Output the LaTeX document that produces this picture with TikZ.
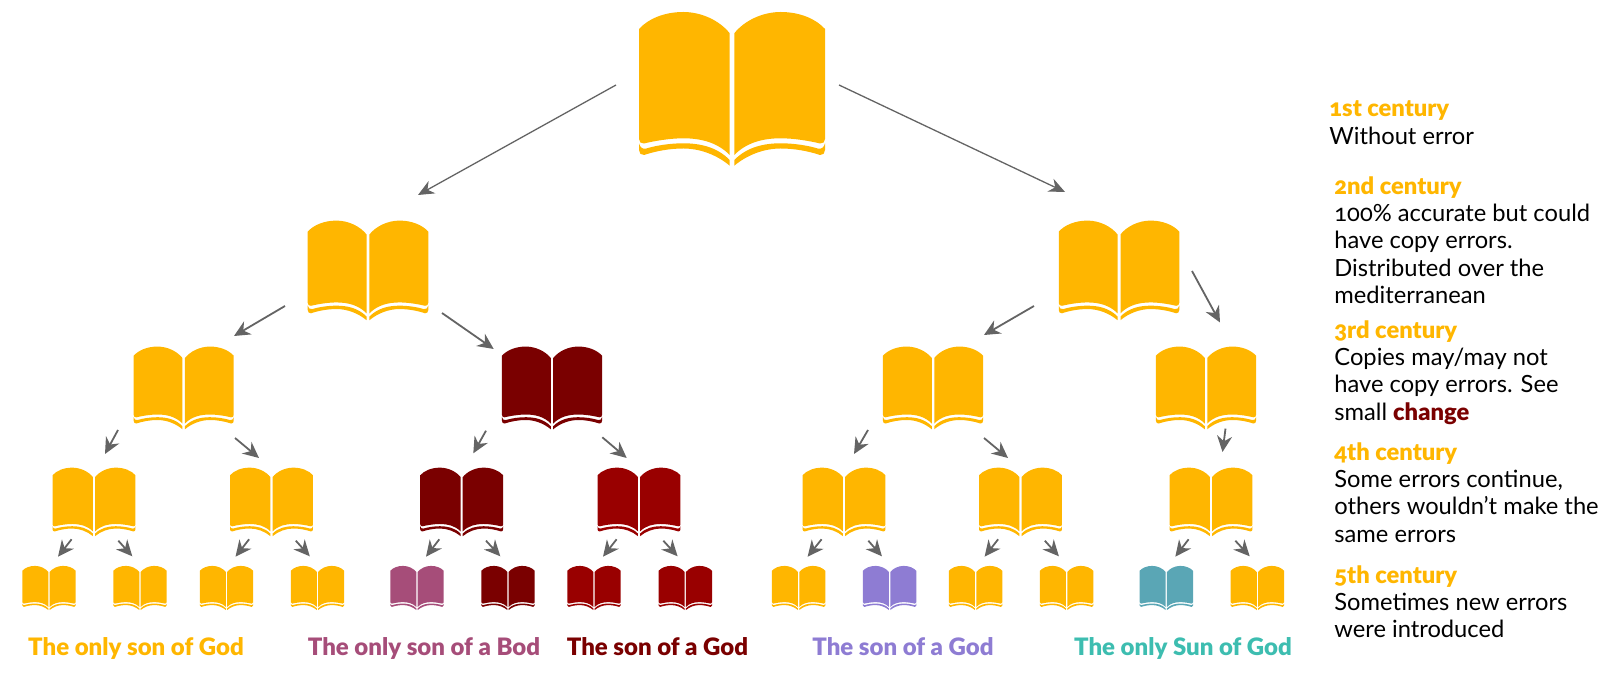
\documentclass[tikz,border=0pt]{standalone}
\usepackage{fontspec}
\setmainfont[Numbers=OldStyle,BoldFont={Lato Black}]{Lato}
\usetikzlibrary{arrows.meta,positioning}
\definecolor{BookGold}{RGB}{255,182,0}
\definecolor{BookDark}{RGB}{122,0,0}
\definecolor{BookRed}{RGB}{153,0,0}
\definecolor{BookPink}{RGB}{166,77,121}
\definecolor{BookPurple}{RGB}{142,124,211}
\definecolor{BookTeal}{RGB}{90,166,181}
\definecolor{LabelTeal}{RGB}{61,189,176}
\definecolor{ArrowGray}{RGB}{100,100,100}
\newcommand{\bookleaf}{(-2.3,-55.7) .. controls (-12,-68) and (-30,-77) .. (-48.7,-77)
  .. controls (-68,-77) and (-84,-70) .. (-93,-60) -- (-93,50)
  .. controls (-93,53) and (-91,54.8) .. (-88,54.5)
  .. controls (-78,52) and (-62,49.3) .. (-48.7,49.3)
  .. controls (-32,49.3) and (-15,53) .. (-2.3,66) -- cycle
  (-93,54.3) .. controls (-92,58) and (-90,60.5) .. (-86,59.6)
  .. controls (-76,56.5) and (-62,54.3) .. (-48.7,54.3)
  .. controls (-32,54.3) and (-15,58) .. (-2.3,71) -- (-2.3,76.7)
  .. controls (-15,66) and (-32,59.5) .. (-48.7,59.5)
  .. controls (-62,59.5) and (-76,62) .. (-88,66)
  .. controls (-91,66.5) and (-93,64) .. (-93,61) -- cycle}
\tikzset{
  pics/book/.style={code={
    \coordinate (-c) at (0,0);
    \fill[#1] \bookleaf;
    \fill[#1,xscale=-1] \bookleaf;
  }},
  bigarrow/.style={ArrowGray,line width=0.65pt,-{Stealth[length=8pt,width=7pt]}},
  midarrow/.style={ArrowGray,line width=0.9pt,-{Stealth[length=8pt,width=7.5pt]}},
  legend/.style={anchor=north west,inner sep=0pt,align=left,font=\fontsize{11.85}{13.65}\selectfont},
  heading/.style={anchor=base,inner sep=0pt,font=\fontsize{12}{13}\selectfont\bfseries},
}
\newcommand{\century}[1]{\textcolor{BookGold}{\bfseries #1}}
\begin{document}
\begin{tikzpicture}[x=0.5pt,y=-0.5pt]
  \useasboundingbox (0,0) rectangle (1600,688);
  % books
  \pic (root) at (732,89) {book=BookGold};
  \pic[scale=.648] (la) at (368,270.5) {book=BookGold};
  \pic[scale=.648] (lb) at (1119,270.5) {book=BookGold};
  \pic[scale=.538] (ma) at (183.7,388) {book=BookGold};
  \pic[scale=.538] (mb) at (552,388) {book=BookDark};
  \pic[scale=.538] (mc) at (933,388) {book=BookGold};
  \pic[scale=.538] (md) at (1206,388) {book=BookGold};
  \pic[scale=.446] (na) at (94,502) {book=BookGold};
  \pic[scale=.446] (nb) at (271.5,502) {book=BookGold};
  \pic[scale=.446] (nc) at (461.7,502) {book=BookDark};
  \pic[scale=.446] (nd) at (639,502) {book=BookRed};
  \pic[scale=.446] (ne) at (844,502) {book=BookGold};
  \pic[scale=.446] (nf) at (1020.5,502) {book=BookGold};
  \pic[scale=.446] (ng) at (1211,502) {book=BookGold};
  \pic[scale=.287] (pa) at (49,588) {book=BookGold};
  \pic[scale=.287] (pb) at (140,588) {book=BookGold};
  \pic[scale=.287] (pc) at (226.5,588) {book=BookGold};
  \pic[scale=.287] (pd) at (317.5,588) {book=BookGold};
  \pic[scale=.287] (pe) at (417,588) {book=BookPink};
  \pic[scale=.287] (pf) at (508,588) {book=BookDark};
  \pic[scale=.287] (pg) at (594,588) {book=BookRed};
  \pic[scale=.287] (ph) at (685.3,588) {book=BookRed};
  \pic[scale=.287] (pi) at (798.6,588) {book=BookGold};
  \pic[scale=.287] (pj) at (889.6,588) {book=BookPurple};
  \pic[scale=.287] (pk) at (975.6,588) {book=BookGold};
  \pic[scale=.287] (pl) at (1066.6,588) {book=BookGold};
  \pic[scale=.287] (pm) at (1166.3,588) {book=BookTeal};
  \pic[scale=.287] (pn) at (1257.4,588) {book=BookGold};
  % arrows
  \draw[bigarrow] ([shift={(-116,-4)}]root-c) -- ([shift={(50,-75.5)}]la-c);
  \draw[bigarrow] ([shift={(107,-4)}]root-c) -- ([shift={(-54,-78.5)}]lb-c);
  \draw[midarrow] ([shift={(-83,35.5)}]la-c) -- ([shift={(50.3,-52)}]ma-c);
  \draw[midarrow] ([shift={(74,42.5)}]la-c) -- ([shift={(-58.3,-39)}]mb-c);
  \draw[midarrow] ([shift={(-85,35.5)}]lb-c) -- ([shift={(51,-53)}]mc-c);
  \draw[midarrow] ([shift={(73,0.5)}]lb-c) -- ([shift={(14,-65.5)}]md-c);
  \draw[midarrow] ([shift={(-65.7,42)}]ma-c) -- ([shift={(11,-48)}]na-c);
  \draw[midarrow] ([shift={(51.3,50)}]ma-c) -- ([shift={(-12.5,-44)}]nb-c);
  \draw[midarrow] ([shift={(-66,42.7)}]mb-c) -- ([shift={(11.6,-48.7)}]nc-c);
  \draw[midarrow] ([shift={(50.3,49.3)}]mb-c) -- ([shift={(-12.3,-44)}]nd-c);
  \draw[midarrow] ([shift={(-65,42)}]mc-c) -- ([shift={(10,-48)}]ne-c);
  \draw[midarrow] ([shift={(51,50)}]mc-c) -- ([shift={(-12.5,-44)}]nf-c);
  \draw[midarrow] ([shift={(19.5,40.6)}]md-c) -- ([shift={(11.5,-50)}]ng-c);
  \draw[midarrow] ([shift={(-22.4,37.3)}]na-c) -- ([shift={(9,-31.3)}]pa-c);
  \draw[midarrow] ([shift={(24.3,38.7)}]na-c) -- ([shift={(-7.7,-31.7)}]pb-c);
  \draw[midarrow] ([shift={(-22.4,37.3)}]nb-c) -- ([shift={(9,-31.3)}]pc-c);
  \draw[midarrow] ([shift={(24.3,38.7)}]nb-c) -- ([shift={(-7.7,-31.7)}]pd-c);
  \draw[midarrow] ([shift={(-22.4,37.3)}]nc-c) -- ([shift={(9,-31.3)}]pe-c);
  \draw[midarrow] ([shift={(24.3,38.7)}]nc-c) -- ([shift={(-7.7,-31.7)}]pf-c);
  \draw[midarrow] ([shift={(-22.4,37.3)}]nd-c) -- ([shift={(9,-31.3)}]pg-c);
  \draw[midarrow] ([shift={(24.3,38.7)}]nd-c) -- ([shift={(-7.7,-31.7)}]ph-c);
  \draw[midarrow] ([shift={(-22.4,37.3)}]ne-c) -- ([shift={(9,-31.3)}]pi-c);
  \draw[midarrow] ([shift={(24.3,38.7)}]ne-c) -- ([shift={(-7.7,-31.7)}]pj-c);
  \draw[midarrow] ([shift={(-22.4,37.3)}]nf-c) -- ([shift={(9,-31.3)}]pk-c);
  \draw[midarrow] ([shift={(24.3,38.7)}]nf-c) -- ([shift={(-7.7,-31.7)}]pl-c);
  \draw[midarrow] ([shift={(-22.4,37.3)}]ng-c) -- ([shift={(9,-31.3)}]pm-c);
  \draw[midarrow] ([shift={(24.3,38.7)}]ng-c) -- ([shift={(-7.7,-31.7)}]pn-c);
  % labels
  \node[heading,text=BookGold] (lblgold) at (136,656) {The only son of God};
  \node[heading,text=BookPink] (lblpink) at (424,656) {The only son of a Bod};
  \node[heading,text=BookDark] (lbldark) at (657.5,656) {The son of a God};
  \node[heading,text=BookPurple] (lblpurple) at (903,656) {The son of a God};
  \node[heading,text=LabelTeal] (lblteal) at (1183,656) {The only Sun of God};
  % legend
  \node[legend] (cent1) at (1329,100.5) {\century{1st century}\\Without error};
  \node[legend] (cent2) at (1334,176) {\century{2nd century}\\100\% accurate but could\\have copy errors.\\Distributed over the\\mediterranean};
  \node[legend] (cent3) at (1334,320) {\century{3rd century}\\Copies may/may not\\have copy errors. See\\small \textcolor{BookDark}{\bfseries change}};
  \node[legend] (cent4) at (1334,442) {\century{4th century}\\Some errors continue,\\others wouldn't make the\\same errors};
  \node[legend] (cent5) at (1334,565) {\century{5th century}\\Sometimes new errors\\were introduced};
\end{tikzpicture}
\end{document}
